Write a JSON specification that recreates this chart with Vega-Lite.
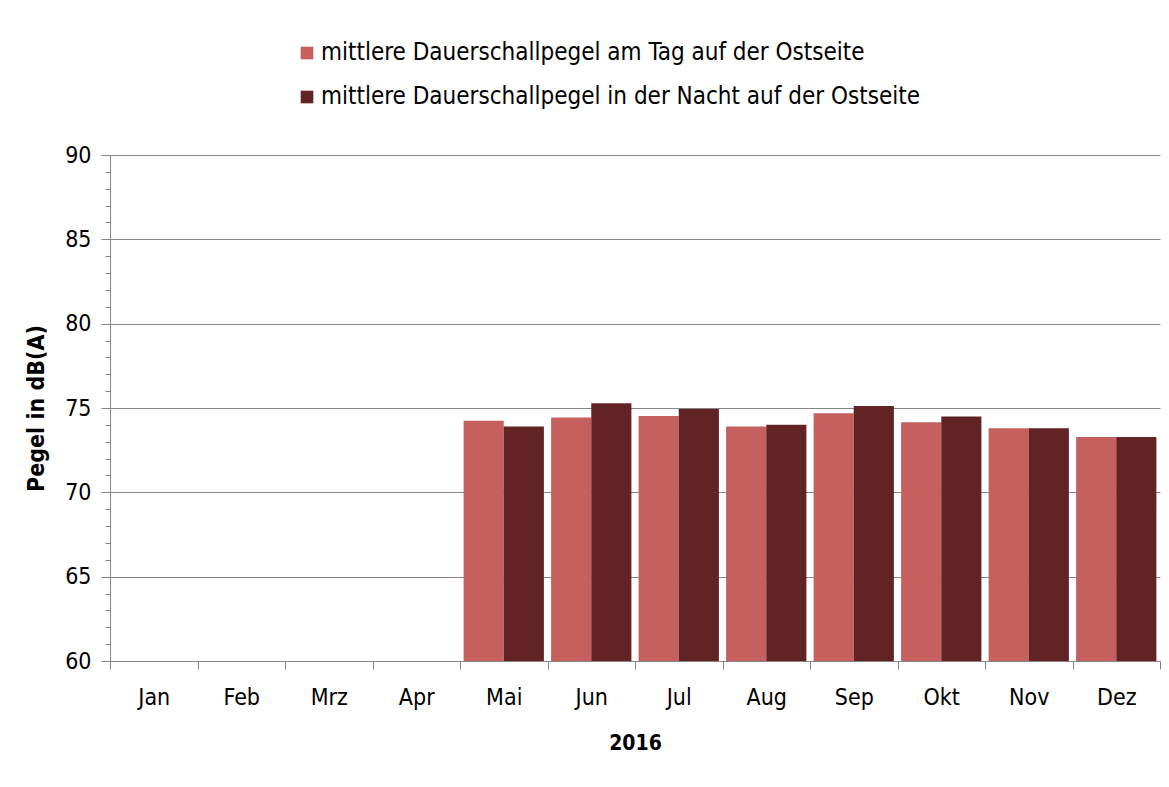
{
  "$schema": "https://vega.github.io/schema/vega-lite/v6.json",
  "width": 1050,
  "height": 506,
  "autosize": {"type": "none"},
  "padding": {"left": 110, "top": 155, "right": 9, "bottom": 126},
  "background": "white",
  "config": {
    "font": "DejaVu Sans Condensed, Roboto, sans-serif",
    "view": {"stroke": null}
  },
  "data": {
    "values": [
      {"month": "Mai", "series": "mittlere Dauerschallpegel am Tag auf der Ostseite", "value": 74.25},
      {"month": "Mai", "series": "mittlere Dauerschallpegel in der Nacht auf der Ostseite", "value": 73.9},
      {"month": "Jun", "series": "mittlere Dauerschallpegel am Tag auf der Ostseite", "value": 74.43},
      {"month": "Jun", "series": "mittlere Dauerschallpegel in der Nacht auf der Ostseite", "value": 75.28},
      {"month": "Jul", "series": "mittlere Dauerschallpegel am Tag auf der Ostseite", "value": 74.53},
      {"month": "Jul", "series": "mittlere Dauerschallpegel in der Nacht auf der Ostseite", "value": 74.94},
      {"month": "Aug", "series": "mittlere Dauerschallpegel am Tag auf der Ostseite", "value": 73.9},
      {"month": "Aug", "series": "mittlere Dauerschallpegel in der Nacht auf der Ostseite", "value": 74.0},
      {"month": "Sep", "series": "mittlere Dauerschallpegel am Tag auf der Ostseite", "value": 74.69},
      {"month": "Sep", "series": "mittlere Dauerschallpegel in der Nacht auf der Ostseite", "value": 75.12},
      {"month": "Okt", "series": "mittlere Dauerschallpegel am Tag auf der Ostseite", "value": 74.15},
      {"month": "Okt", "series": "mittlere Dauerschallpegel in der Nacht auf der Ostseite", "value": 74.5},
      {"month": "Nov", "series": "mittlere Dauerschallpegel am Tag auf der Ostseite", "value": 73.8},
      {"month": "Nov", "series": "mittlere Dauerschallpegel in der Nacht auf der Ostseite", "value": 73.8},
      {"month": "Dez", "series": "mittlere Dauerschallpegel am Tag auf der Ostseite", "value": 73.28},
      {"month": "Dez", "series": "mittlere Dauerschallpegel in der Nacht auf der Ostseite", "value": 73.28}
    ]
  },
  "mark": {"type": "bar", "clip": true},
  "encoding": {
    "x": {
      "field": "month",
      "type": "nominal",
      "sort": null,
      "scale": {
        "domain": ["Jan", "Feb", "Mrz", "Apr", "Mai", "Jun", "Jul", "Aug", "Sep", "Okt", "Nov", "Dez"],
        "paddingInner": 0,
        "paddingOuter": 0
      },
      "axis": {
        "title": "2016",
        "titleFontSize": 21,
        "titleFontWeight": "bold",
        "titleColor": "black",
        "titlePadding": 23,
        "labelAngle": 0,
        "labelFontSize": 23,
        "labelColor": "black",
        "labelPadding": 17,
        "tickBand": "extent",
        "tickSize": 8,
        "tickColor": "#868686",
        "domainColor": "#868686",
        "grid": false
      }
    },
    "xOffset": {
      "field": "series",
      "type": "nominal",
      "scale": {"paddingInner": 0, "paddingOuter": 0.09}
    },
    "y": {
      "field": "value",
      "type": "quantitative",
      "scale": {"domain": [60, 90], "zero": false, "nice": false},
      "axis": {
        "title": "Pegel in dB(A)",
        "titleFontSize": 23,
        "titleFontWeight": "bold",
        "titleColor": "black",
        "titlePadding": 16,
        "values": [60,61,62,63,64,65,66,67,68,69,70,71,72,73,74,75,76,77,78,79,80,81,82,83,84,85,86,87,88,89,90],
        "labelExpr": "datum.value % 5 === 0 ? datum.label : ''",
        "labelFontSize": 23,
        "labelColor": "black",
        "labelPadding": 10,
        "tickSize": {"condition": {"test": "datum.value % 5 === 0", "value": 9}, "value": 5},
        "tickColor": "#868686",
        "domainColor": "#868686",
        "grid": true,
        "gridColor": "#868686",
        "gridOpacity": {"condition": {"test": "datum.value % 5 === 0", "value": 1}, "value": 0}
      }
    },
    "color": {
      "field": "series",
      "type": "nominal",
      "scale": {"range": ["#C5605E", "#622324"]},
      "legend": {
        "title": null,
        "orient": "none",
        "legendX": 185,
        "legendY": -114,
        "direction": "vertical",
        "symbolType": "square",
        "symbolSize": 160,
        "symbolStrokeWidth": 0,
        "labelFontSize": 24,
        "labelColor": "black",
        "labelOffset": 2,
        "labelLimit": 0,
        "rowPadding": 20
      }
    }
  }
}
